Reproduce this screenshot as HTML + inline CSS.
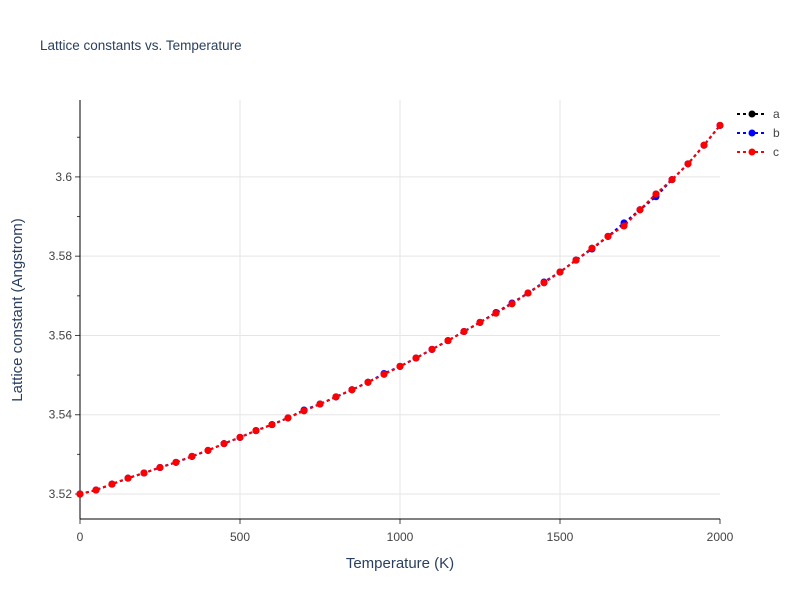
<!DOCTYPE html>
<html><head><meta charset="utf-8"><style>
body{margin:0;background:#fff;font-family:"Liberation Sans",sans-serif}
</style></head><body>
<svg id="chart" width="800" height="600" xmlns="http://www.w3.org/2000/svg">
<text x="40" y="50" font-size="13.5" fill="#2a3f5f">Lattice constants vs. Temperature</text>
<g id="grid"></g><g id="axes"></g><g id="series"></g>
<text x="400" y="568" font-size="15" fill="#2a3f5f" text-anchor="middle">Temperature (K)</text>
<text transform="translate(22,310) rotate(-90)" font-size="15" fill="#2a3f5f" text-anchor="middle">Lattice constant (Angstrom)</text>
<g id="legend"></g>
</svg>
<script>
const temps=[0,50,100,150,200,250,300,350,400,450,500,550,600,650,700,750,800,850,900,950,1000,1050,1100,1150,1200,1250,1300,1350,1400,1450,1500,1550,1600,1650,1700,1750,1800,1850,1900,1950,2000];
const seriesA=[3.520,3.521,3.5225,3.524,3.5253,3.5267,3.528,3.5295,3.531,3.5327,3.5343,3.536,3.5375,3.5392,3.541,3.5427,3.5445,3.5463,3.5482,3.5502,3.5522,3.5543,3.5565,3.5587,3.561,3.5633,3.5657,3.568,3.5707,3.5733,3.576,3.579,3.582,3.585,3.5878,3.5917,3.5957,3.5993,3.6033,3.608,3.613];
const seriesB=[3.520,3.521,3.5225,3.524,3.5253,3.5267,3.528,3.5295,3.531,3.5327,3.5343,3.536,3.5375,3.5392,3.5412,3.5427,3.5445,3.5463,3.5482,3.5504,3.5522,3.5543,3.5565,3.5587,3.561,3.5633,3.5658,3.5682,3.5707,3.5735,3.576,3.579,3.5818,3.585,3.5884,3.5917,3.595,3.5993,3.6033,3.608,3.613];
const seriesC=[3.520,3.521,3.5225,3.524,3.5253,3.5267,3.528,3.5295,3.531,3.5327,3.5343,3.536,3.5375,3.5392,3.541,3.5427,3.5445,3.5463,3.5482,3.5502,3.5522,3.5543,3.5565,3.5587,3.561,3.5633,3.5656,3.568,3.5707,3.5733,3.576,3.579,3.582,3.585,3.5876,3.5917,3.5957,3.5993,3.6033,3.608,3.613];
const xTicks=[0,500,1000,1500,2000];
const yTicks=[3.52,3.54,3.56,3.58,3.60];
const yTickLabels=["3.52","3.54","3.56","3.58","3.6"];
const seriesNames=["a","b","c"];
const seriesColors=["#000000","#0000ff","#ff0000"];
const NS="http://www.w3.org/2000/svg";
const L=80,R=720,T=100,B=519,xMin=0,xMax=2000,yMin=3.5137,yMax=3.6194;
const X=v=>L+(v-xMin)/(xMax-xMin)*(R-L);
const Y=v=>B-(v-yMin)/(yMax-yMin)*(B-T);
function mk(tag,attrs,parent){const e=document.createElementNS(NS,tag);for(const k in attrs)e.setAttribute(k,attrs[k]);parent.appendChild(e);return e;}
const grid=document.getElementById('grid'),axes=document.getElementById('axes'),ser=document.getElementById('series'),leg=document.getElementById('legend');
xTicks.forEach(t=>{
 if(t>xMin&&t<xMax){const g=mk('line',{x1:X(t),x2:X(t),y1:T,y2:B,stroke:'#e5e5e5','stroke-width':1},grid);
 }
 const tk=mk('line',{x1:X(t),x2:X(t),y1:B,y2:B+5,stroke:'#444'},axes);
 
 const tx=mk('text',{x:X(t),y:B+22,'font-size':12,fill:'#444','text-anchor':'middle'},axes);tx.textContent=t;
 
});
yTicks.forEach((t,i)=>{
 const g=mk('line',{x1:L,x2:R,y1:Y(t),y2:Y(t),stroke:'#e5e5e5','stroke-width':1},grid);
 
 const tk=mk('line',{x1:L-5,x2:L,y1:Y(t),y2:Y(t),stroke:'#444'},axes);
 
 const tx=mk('text',{x:L-8,y:Y(t)+4,'font-size':12,fill:'#444','text-anchor':'end'},axes);tx.textContent=yTickLabels[i];
 
});
for(let k=351;k<=361;k++){const v=k/100;if(k%2===1&&Y(v)>T+2&&Y(v)<B){const m=mk('line',{x1:L-3,x2:L,y1:Y(v),y2:Y(v),stroke:'#444'},axes);}}
const ax=mk('line',{x1:L,x2:L,y1:T,y2:B,stroke:'#000'},axes);
const bx=mk('line',{x1:L,x2:R,y1:B,y2:B,stroke:'#000'},axes);
[seriesA,seriesB,seriesC].forEach((d,si)=>{
 const col=seriesColors[si];
 const g=mk('g',{},ser);
 const p=mk('path',{d:d.map((v,i)=>(i?'L':'M')+X(temps[i])+','+Y(v)).join(''),fill:'none',stroke:col,'stroke-width':2,'stroke-dasharray':'3,3'},g);
 
 d.forEach((v,i)=>{const c=mk('circle',{cx:X(temps[i]),cy:Y(v),r:3.5,fill:col},g);
 });
 const ly=114+si*19;
 const lg=mk('g',{},leg);
 mk('line',{x1:737,x2:767,y1:ly,y2:ly,stroke:col,'stroke-width':2,'stroke-dasharray':'3,3'},lg);
 mk('circle',{cx:752,cy:ly,r:3.5,fill:col},lg);
 const t=mk('text',{x:773,y:ly+4,'font-size':12,fill:'#444'},lg);t.textContent=seriesNames[si];
});
</script>
</body></html>
